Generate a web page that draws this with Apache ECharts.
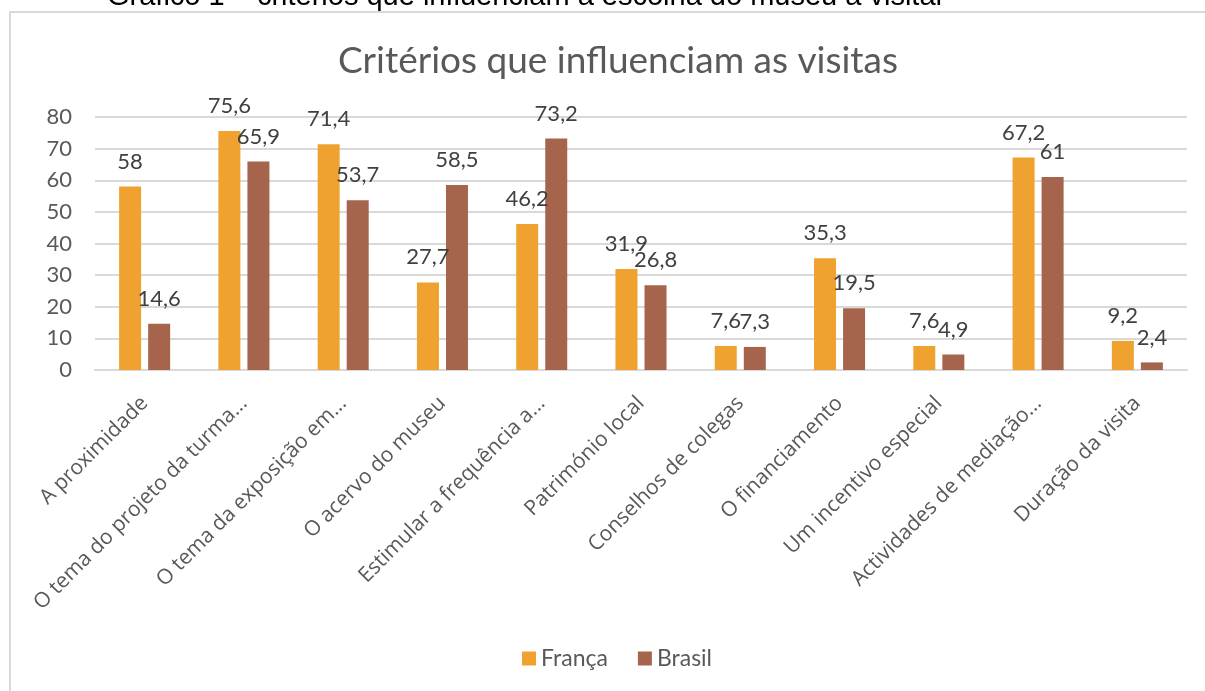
<!DOCTYPE html>
<html>
<head>
<meta charset="utf-8">
<script src="https://cdn.jsdelivr.net/npm/echarts@6/dist/echarts.min.js"></script>
<style>
  html, body { margin: 0; padding: 0; background: #fff; }
  #chart { width: 1205px; height: 691px; }
</style>
</head>
<body>
<div id="chart"></div>
<script>
  // categorias (rótulos truncados como no gráfico original)
  var categorias = ['A proximidade', 'O tema do projeto da turma...', 'O tema da exposição em...',
    'O acervo do museu', 'Estimular a frequência a...', 'Património local', 'Conselhos de colegas',
    'O financiamento', 'Um incentivo especial', 'Actividades de mediação...', 'Duração da visita'];
  var franca = [58, 75.6, 71.4, 27.7, 46.2, 31.9, 7.6, 35.3, 7.6, 67.2, 9.2];
  var brasil = [14.6, 65.9, 53.7, 58.5, 73.2, 26.8, 7.3, 19.5, 4.9, 61, 2.4];
  var yTicks = { min: 0, max: 80, interval: 10 };

  var chart = echarts.init(document.getElementById('chart'));

  function rotulo(p) {
    return String(p.value).replace('.', ',');
  }

  var labelStyle = {
    show: true,
    position: 'top',
    distance: 14,
    formatter: rotulo,
    color: '#404040',
    fontSize: 22,
    fontFamily: 'Lato'
  };

  var option = {
    backgroundColor: '#fff',
    animation: false,
    title: {
      text: 'Critérios que influenciam as visitas',
      left: 333,
      top: 38,
      textStyle: { color: '#595959', fontSize: 37, fontWeight: 'normal', fontFamily: 'Lato' }
    },
    graphic: [
      {
        type: 'text',
        left: 107,
        top: -18,
        style: {
          text: 'Gráfico 1 – critérios que influenciam a escolha do museu a visitar',
          fill: '#000',
          font: '29px "Liberation Sans"'
        }
      },
      {
        type: 'rect',
        shape: { x: 10, y: 12, width: 1210, height: 700 },
        style: { fill: 'none', stroke: '#d9d9d9', lineWidth: 2 }
      }
    ],
    legend: {
      data: ['França', 'Brasil'],
      bottom: 16,
      left: 517,
      itemWidth: 14,
      itemHeight: 14,
      itemGap: 30,
      icon: 'rect',
      textStyle: { color: '#595959', fontSize: 23, fontFamily: 'Lato' }
    },
    grid: { left: 95, right: 18, top: 117, bottom: 321, containLabel: false },
    xAxis: {
      type: 'category',
      data: categorias,
      axisLine: { show: true, lineStyle: { color: '#d9d9d9', width: 2 } },
      axisTick: { show: false },
      axisLabel: {
        interval: 0,
        rotate: 45,
        margin: 30,
        color: '#595959',
        fontSize: 21,
        fontFamily: 'Open Sans'
      }
    },
    yAxis: {
      type: 'value',
      min: yTicks.min,
      max: yTicks.max,
      interval: yTicks.interval,
      axisLine: { show: false },
      axisTick: { show: false },
      splitLine: { lineStyle: { color: '#d9d9d9', width: 2 } },
      axisLabel: { color: '#595959', fontSize: 22, fontFamily: 'Lato', margin: 23 }
    },
    series: [
      {
        name: 'França',
        type: 'bar',
        data: franca,
        barWidth: 22,
        barGap: '32%',
        itemStyle: { color: '#EFA22F' },
        label: labelStyle
      },
      {
        name: 'Brasil',
        type: 'bar',
        data: brasil,
        barWidth: 22,
        itemStyle: { color: '#A5644B' },
        label: labelStyle
      }
    ]
  };

  chart.setOption(option);
</script>
</body>
</html>
